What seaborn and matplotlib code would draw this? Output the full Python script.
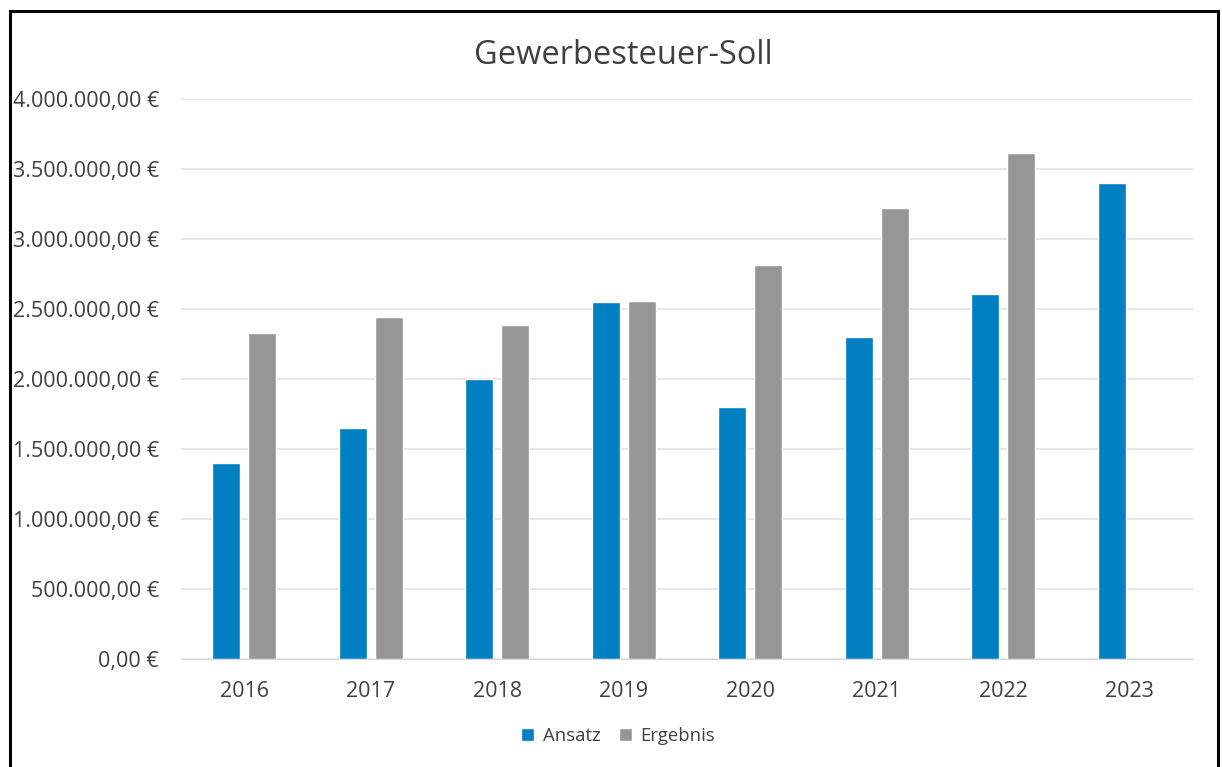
import numpy as np
import pandas as pd
import matplotlib
matplotlib.use('Agg')
import matplotlib.pyplot as plt
import seaborn as sns
from matplotlib.patches import Rectangle
from matplotlib.ticker import FuncFormatter

# ── Data ─────────────────────────────────────────────────────
years    = ['2016', '2017', '2018', '2019', '2020', '2021', '2022', '2023']
ansatz   = [1400000, 1650000, 2000000, 2550000, 1800000, 2300000, 2605000, 3400000]
ergebnis = [2330000, 2440000, 2385000, 2555000, 2812000, 3220000, 3612000, np.nan]

df = pd.DataFrame({'Jahr': years * 2,
                   'Serie': ['Ansatz'] * len(years) + ['Ergebnis'] * len(years),
                   'Wert': ansatz + ergebnis})

sns.set_style('white')
plt.rcParams['font.family'] = ['Open Sans', 'DejaVu Sans']
text_col = '#404040'

fig = plt.figure(figsize=(12.22, 7.67), dpi=100)
ax = fig.add_axes([181 / 1222, 1 - 659 / 767, 1012 / 1222, 560 / 767])

sns.barplot(data=df, x='Jahr', y='Wert', hue='Serie', ax=ax,
            palette={'Ansatz': '#0080C2', 'Ergebnis': '#969696'},
            width=0.57, gap=0.22, saturation=1, errorbar=None)

def euro(v, pos):
    s = f"{v:,.2f}".replace(',', 'X').replace('.', ',').replace('X', '.')
    return s + ' €'

ax.set_ylim(0, 4000000)
ax.set_yticks(np.arange(0, 4000001, 500000))
ax.yaxis.set_major_formatter(FuncFormatter(euro))
ax.grid(axis='y', color='#E3E3E3', linewidth=1.2)
ax.set_axisbelow(True)
for sp in ['top', 'right', 'left']:
    ax.spines[sp].set_visible(False)
ax.spines['bottom'].set_color('#D9D9D9')
ax.tick_params(axis='y', length=0, pad=16, labelsize=15.5, labelcolor=text_col)
ax.tick_params(axis='x', length=0, pad=16, labelsize=15.5, labelcolor=text_col)
ax.set_xlabel('')
ax.set_ylabel('')

leg = ax.legend(loc='center', bbox_to_anchor=(618 / 1222, 1 - 736 / 767),
                bbox_transform=fig.transFigure, ncol=2, frameon=False,
                fontsize=13.3, handlelength=0.7, handleheight=0.7,
                handletextpad=0.45, columnspacing=1.0)
for t in leg.get_texts():
    t.set_color(text_col)

fig.text(623 / 1222, 1 - 55 / 767, 'Gewerbesteuer-Soll', ha='center', va='center',
         fontsize=23.5, color=text_col)

fig.patches.append(Rectangle((10 / 1222, -0.05), 1208 / 1222, 1.05 - 11 / 767,
                             transform=fig.transFigure, fill=False,
                             edgecolor='black', linewidth=2.2))

fig.savefig('out.png', dpi=100)
plt.close()
